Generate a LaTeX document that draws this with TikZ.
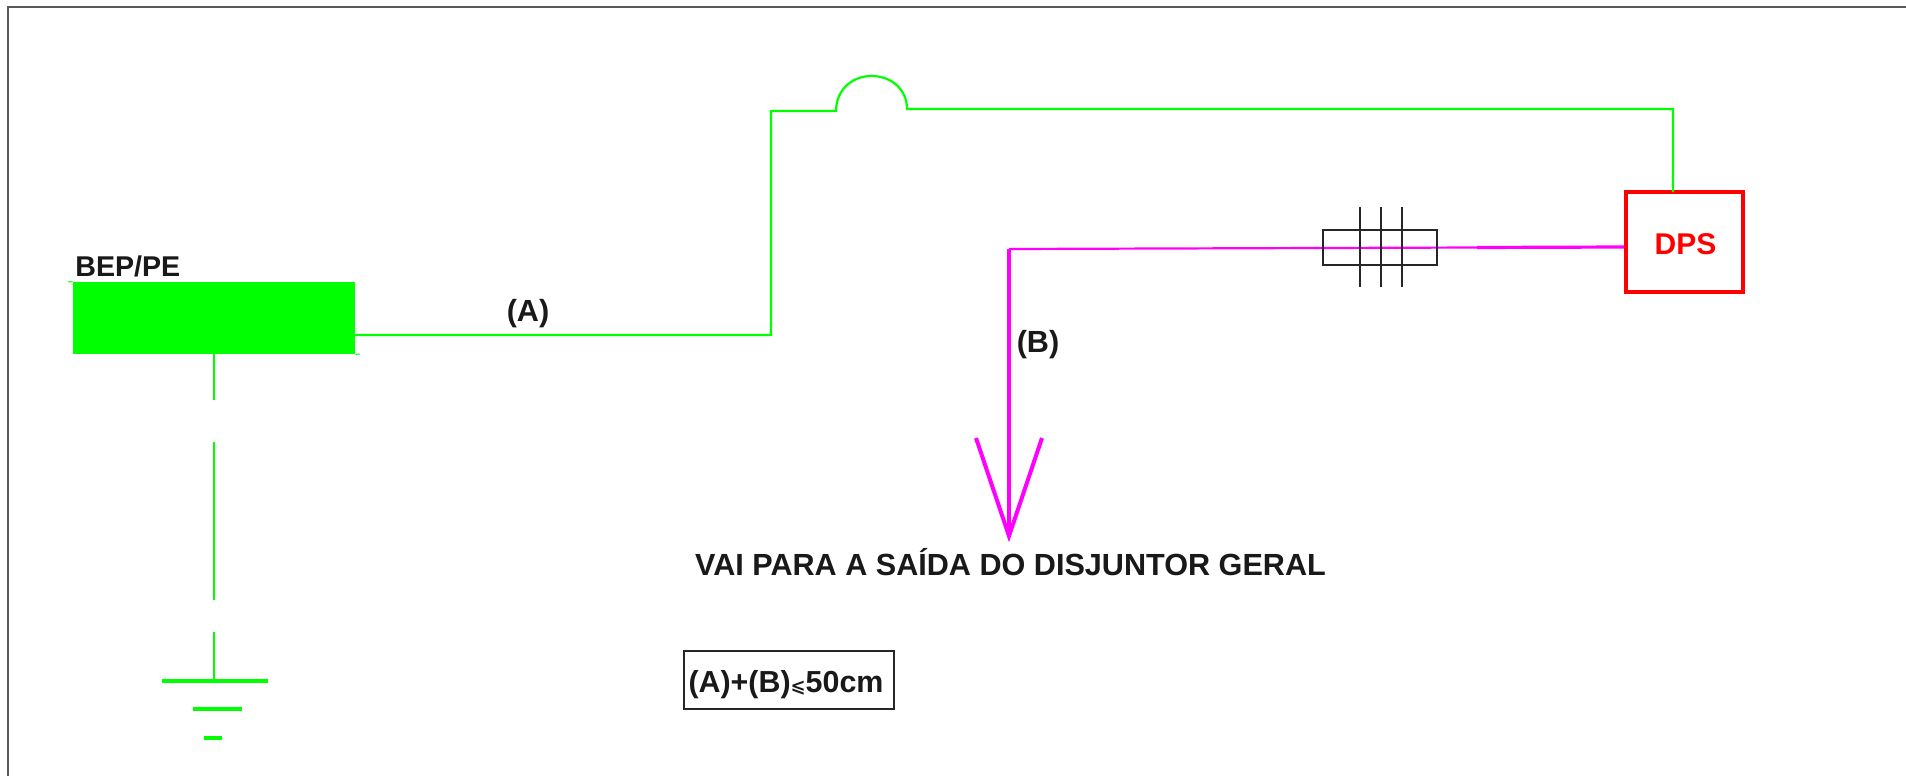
\documentclass[tikz,border=0pt]{standalone}
\usepackage{fontspec}
\setmainfont{Liberation Sans}
\newfontfamily\symfont{DejaVu Sans}
\definecolor{wiremag}{RGB}{255,0,255}
\definecolor{wiregreen}{RGB}{0,255,0}
\definecolor{boxred}{RGB}{255,0,0}
\tikzset{
  frameline/.style={draw=black!65,line width=1.2pt},
  greenwire/.style={draw=wiregreen,line width=1.1pt},
  groundbar/.style={draw=wiregreen,line width=1.6pt},
  magwire/.style={draw=wiremag,line width=1.6pt},
  magthin/.style={draw=wiremag,line width=1.1pt},
  magthick/.style={draw=wiremag,line width=2pt,line join=miter},
  blackline/.style={draw=black!85,line width=0.9pt},
  label/.style={inner sep=0pt,text=black!90,font=\fontsize{15.3}{17}\selectfont\bfseries},
  smalllabel/.style={inner sep=0pt,text=black!90,font=\fontsize{14.3}{16}\selectfont\bfseries},
  blockbox/.style={fill=wiregreen,draw=none,inner sep=0pt,minimum width=141pt,minimum height=36pt},
  dpsbox/.style={draw=boxred,line width=1.6pt,inner sep=0pt,minimum width=58.5pt,minimum height=50pt,text=boxred,font=\fontsize{15}{17}\selectfont\bfseries},
  sleevebox/.style={blackline,inner sep=0pt,minimum width=57pt,minimum height=17.5pt},
  notebox/.style={draw=black!85,line width=0.8pt,inner sep=0pt,minimum width=105pt,minimum height=29pt,text=black!90,font=\fontsize{15.2}{17}\selectfont\bfseries}
}
\begin{document}
\begin{tikzpicture}[x=0.5pt,y=-0.5pt]
\useasboundingbox (0,0) rectangle (1906,776);
\fill[white] (0,0) rectangle (1906,776);
% frame
\coordinate (fa) at (8,776);
\coordinate (fb) at (8,7);
\coordinate (fc) at (1906,7);
\draw[frameline] (fa) -- (fb) -- (fc);
% BEP block
\node[blockbox] (bep) at (214,318) {};
\coordinate (ovl) at (68,282);
\coordinate (ovr) at (360,354);
\draw[wiregreen,line width=0.5pt] (ovl) -- (bep.north west);
\draw[wiregreen,line width=0.5pt] (bep.south east) -- (ovr);
\node[smalllabel,anchor=base west] (beplabel) at (75,276) {BEP/PE};
% DPS
\node[dpsbox] (dps) at (1684.5,242) {\raisebox{-6pt}[0pt][0pt]{\kern1pt DPS}};
% green wire
\coordinate (g0) at (355,335);
\coordinate (g1) at (771,335);
\coordinate (g2) at (771,111);
\coordinate (g3) at (836,111);
\coordinate (g4) at (871.5,76);
\coordinate (g5) at (907,109);
\coordinate (g6) at (1673,109);
\coordinate (g7) at (1673,192);
\draw[greenwire,line join=miter] (g0) -- (g1) -- (g2) -- (g3)
  .. controls (836,91) and (851,76) .. (g4)
  .. controls (892,76) and (907,90) .. (g5) -- (g6) -- (g7);
\node[label] (a) at (528,314) {(A)};
% earth
\coordinate (e0) at (214,354);
\coordinate (e1) at (214,400);
\coordinate (e2) at (214,442);
\coordinate (e3) at (214,600);
\coordinate (e4) at (214,632);
\coordinate (e5) at (214,681);
\draw[greenwire] (e0) -- (e1);
\draw[greenwire] (e2) -- (e3);
\draw[greenwire] (e4) -- (e5);
\coordinate (b1l) at (162,681);
\coordinate (b1r) at (268,681);
\coordinate (b2l) at (193,709);
\coordinate (b2r) at (242,709);
\coordinate (b3l) at (204,738);
\coordinate (b3r) at (222,738);
\draw[groundbar] (b1l) -- (b1r);
\draw[groundbar] (b2l) -- (b2r);
\draw[groundbar] (b3l) -- (b3r);
% magenta wire
\coordinate (m0) at (1626,247);
\coordinate (m1) at (1477,247.5);
\coordinate (m2) at (1009,249);
\coordinate (m3) at (1009,536);
\coordinate (hl) at (976,438);
\coordinate (hr) at (1042,438);
\draw[magwire] (dps.west |- m0) -- (m1);
\draw[magthin] (m1) -- (m2);
\draw[magthick] (m2) -- (m3);
\draw[magthick] (hl) -- (m3) -- (hr);
% sleeve
\node[sleevebox] (sl) at (1380,247.5) {};
\foreach \nm/\xx in {va/1360,vb/1381,vc/1402}{
  \coordinate (\nm t) at (\xx,207);
  \coordinate (\nm b) at (\xx,287);
  \draw[blackline] (\nm t) -- (\nm b);
}
\node[label] (b) at (1038,345) {(B)};
\node[label,anchor=base] (vai) at (1010.5,575) {VAI PARA A SAÍDA DO DISJUNTOR GERAL};
\node[notebox] (note) at (789,680) {\raisebox{-6.4pt}[0pt][0pt]{(A)+(B){\symfont\fontsize{9}{11}\selectfont\bfseries ⩽}50cm}\kern3pt};
\end{tikzpicture}
\end{document}
